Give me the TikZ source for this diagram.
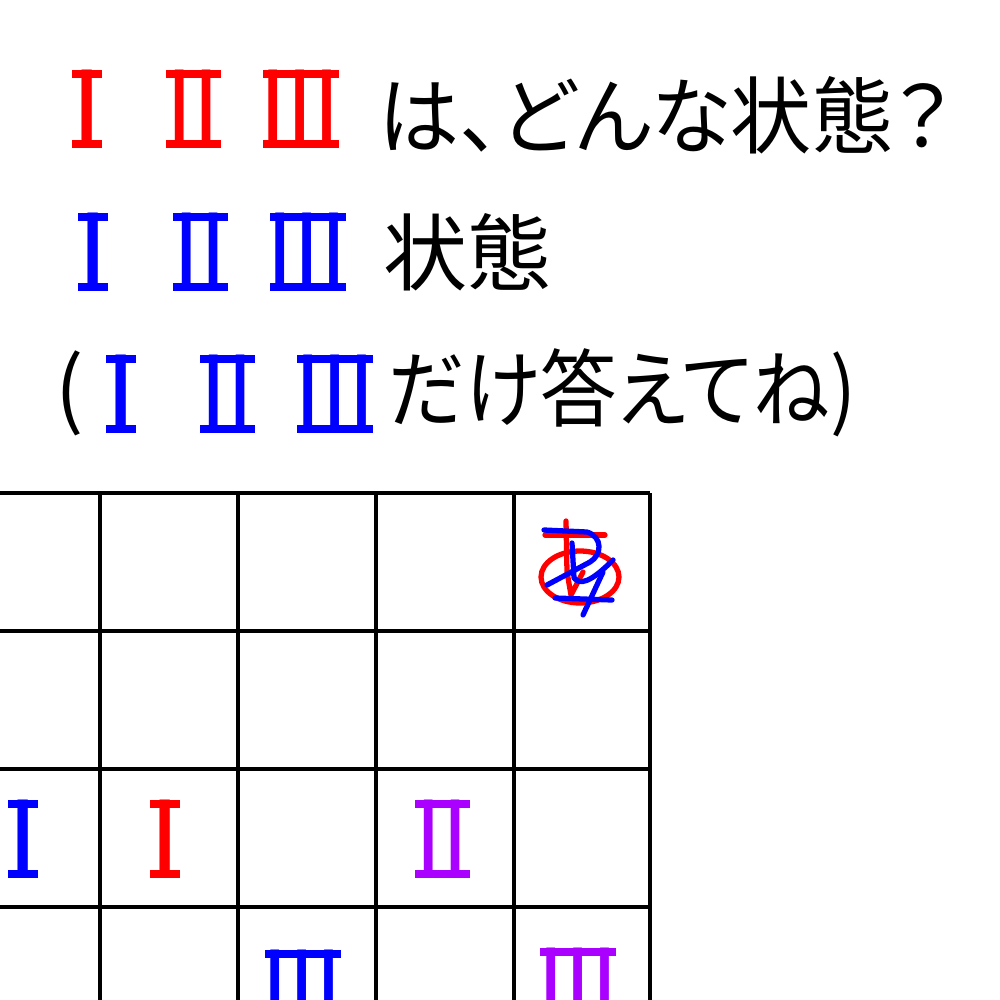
\documentclass[tikz,border=0pt]{standalone}
\usepackage{fontspec}
\usetikzlibrary{calc}
\newfontfamily\jp[RawFeature=+palt]{Noto Sans CJK JP}
\newfontfamily\jpr{Noto Sans CJK JP}
\definecolor{numred}{RGB}{255,0,0}
\definecolor{numblue}{RGB}{0,0,255}
\definecolor{numpurple}{RGB}{170,0,255}
% roman numeral: name, colour, position, glyph, bar width
\newcommand\romnum[5]{%
  \node[rn, text=#2] (#1) at (#3) {#4};
  \fill[#2] ($(#1.center)+(-#5/2,-39)$) rectangle ($(#1.center)+(#5/2,-31)$);
  \fill[#2] ($(#1.center)+(-#5/2,31)$) rectangle ($(#1.center)+(#5/2,39)$);
}
\begin{document}
\begin{tikzpicture}[x=0.01cm,y=-0.01cm,
  txt/.style={inner sep=0, font=\jp\fontsize{23.9pt}{24pt}\selectfont, anchor=west},
  rn/.style={inner sep=0, font=\jpr\fontsize{30.5pt}{31pt}\selectfont},
  gridline/.style={line width=0.9pt, black},
  pen/.style={line width=1.5pt, line cap=round, line join=round}]
\useasboundingbox (0,0) rectangle (1000,1000);
\fill[white] (0,0) rectangle (1000,1000);
% line 1
\romnum{r1a}{numred}{87,109}{Ⅰ}{30}
\romnum{r1b}{numred}{193.5,109}{\scalebox{0.85}[1]{Ⅱ}}{55}
\romnum{r1c}{numred}{300.5,109}{\scalebox{0.85}[1]{Ⅲ}}{76}
\node[txt] (t1) at (378,115) {\scalebox{0.965}[1]{は、どんな状態？}};
% line 2
\romnum{r2a}{numblue}{93,252}{Ⅰ}{30}
\romnum{r2b}{numblue}{200.5,252}{\scalebox{0.85}[1]{Ⅱ}}{55}
\romnum{r2c}{numblue}{307.5,252}{\scalebox{0.85}[1]{Ⅲ}}{76}
\node[txt] (t2) at (383,252) {状態};
% line 3
\node[txt] (p3) at (55,393) {(};
\romnum{r3a}{numblue}{121,394}{Ⅰ}{30}
\romnum{r3b}{numblue}{227.5,394}{\scalebox{0.85}[1]{Ⅱ}}{55}
\romnum{r3c}{numblue}{335,394}{\scalebox{0.85}[1]{Ⅲ}}{76}
\node[txt] (t3) at (388,393) {\scalebox{0.91}[1]{だけ答えてね)}};
% grid
\foreach \x in {100,238,376,514,650} \draw[gridline] (\x,493) -- (\x,1000);
\draw[gridline] (0,493) -- (650,493);
\foreach \y in {631,769,907} \draw[gridline] (0,\y) -- (650,\y);
\romnum{g1}{numblue}{23,839}{Ⅰ}{30}
\romnum{g2}{numred}{165,839}{Ⅰ}{30}
\romnum{g3}{numpurple}{442.5,839}{\scalebox{0.85}[1]{Ⅱ}}{55}
\begin{scope}
\clip (0,0) rectangle (1000,1000);
\romnum{g4}{numblue}{302.5,989}{\scalebox{0.85}[1]{Ⅲ}}{76}
\romnum{g5}{numpurple}{578,987}{\scalebox{0.85}[1]{Ⅲ}}{76}
\end{scope}
% handwriting in top-right cell
\draw[pen, numred] (545,535) -- (605,535);
\draw[pen, numred] (566,521) -- (567,572) -- (571,595) -- (583,572);
\draw[pen, numred] (580,577) ellipse [x radius=39, y radius=26];
\draw[pen, numblue] (544,530) -- (587,532) .. controls (603,537) and (602,555) .. (590,562) -- (547,585);
\draw[pen, numblue] (572,543) -- (574,578) .. controls (580,585) and (590,583) .. (613,560);
\draw[pen, numblue] (603,572) -- (583,615);
\draw[pen, numblue] (555,598) -- (612,600);
\end{tikzpicture}
\end{document}
